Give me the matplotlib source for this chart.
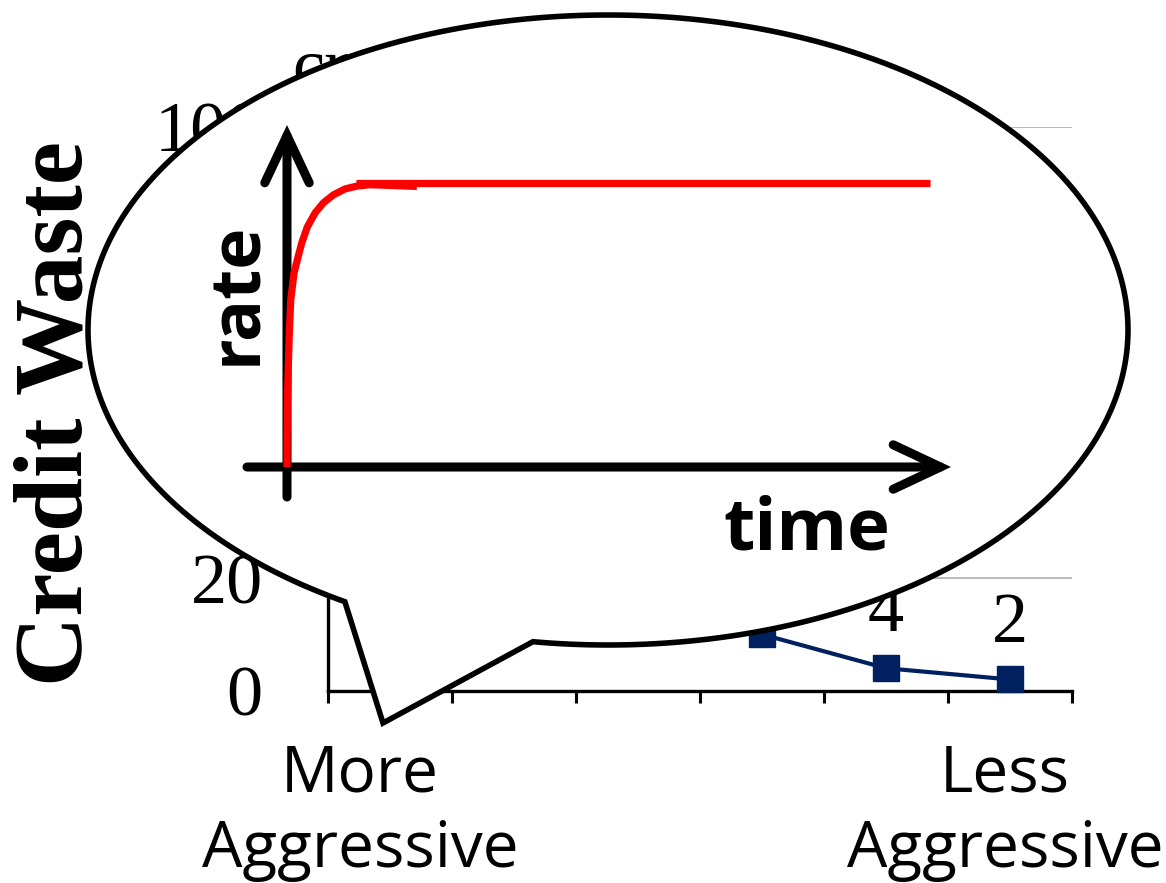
import numpy as np
import matplotlib
matplotlib.use("Agg")
import matplotlib.pyplot as plt
from matplotlib.transforms import Affine2D
from matplotlib.patches import PathPatch, ArrowStyle
from matplotlib.path import Path

W, H = 1166, 883

# ---- main series: credit waste vs. aggressiveness ----
categories = ["a1", "a2", "a3", "a4", "a5", "a6"]
credit_waste = [60, 35, 20, 10, 4, 2]
value_labels = ["60", "35", "20", "10", "4", "2"]
y_ticks = [0, 20, 40, 60, 80, 100]
end_labels = ["More\nAggressive", "Less\nAggressive"]

# ---- inset sketch: sending rate over time ----
ramp_time = [0, 0.05, 0.2, 0.36, 0.58, 1.09, 1.6, 2.29, 3.16, 4.35, 5.65,
             7.2, 9.02, 10.84, 12.9, 20.2]
ramp_rate = [0, 0.236, 0.352, 0.472, 0.588, 0.683, 0.729, 0.789, 0.845,
             0.894, 0.930, 0.958, 0.979, 0.989, 0.994, 0.988]
plateau_time = [10.7, 100]
plateau_rate = [1.0, 1.0]

SERIF = "Liberation Serif"
SANS = "Open Sans"
NAVY = "#002060"

fig = plt.figure(figsize=(W / 100, H / 100), dpi=100)
fig.patch.set_facecolor("white")
# pixel coordinates with origin at the top-left corner
pix = Affine2D().scale(1 / W, -1 / H).translate(0, 1) + fig.transFigure

# ---------------- main chart ----------------
ax_left, ax_right, ax_top, ax_bottom = 328, 1072, 127, 690.75
ax = fig.add_axes([ax_left / W, 1 - ax_bottom / H,
                   (ax_right - ax_left) / W, (ax_bottom - ax_top) / H], zorder=0)
x = np.arange(len(categories)) + 0.5
ax.plot(x, credit_waste, color=NAVY, lw=3, marker="s", ms=18.5,
        mfc=NAVY, mec=NAVY, clip_on=False, zorder=3)
for xi, v, lbl in zip(x, credit_waste, value_labels):
    ax.annotate(lbl, (xi, v), xytext=(0, 27), textcoords="offset points",
                ha="center", va="baseline", fontsize=52, family=SERIF,
                annotation_clip=False)

ax.set_xlim(0, len(categories))
ax.set_ylim(0, 100)
ax.set_xticks(np.arange(len(categories) + 1))
ax.set_xticklabels([])
ax.set_yticks(y_ticks)
ax.set_yticklabels([str(t) for t in y_ticks], family=SERIF, fontsize=52)
ax.tick_params(axis="y", length=0, pad=47)
ax.tick_params(axis="x", direction="out", length=8.6, width=2.2, color="black")
for side in ("top", "right"):
    ax.spines[side].set_visible(False)
for side in ("left", "bottom"):
    ax.spines[side].set_linewidth(2.4)
    ax.spines[side].set_color("black")
ax.yaxis.grid(True, color="#A6A6A6", lw=1.1)
ax.set_axisbelow(True)

ax.text(82, 414, "Credit Waste", transform=pix, rotation=90,
        rotation_mode="anchor", ha="center", va="baseline",
        fontsize=70, fontweight="bold", family=SERIF)
ax.text(292, 88, "cr", transform=pix, ha="left", va="baseline",
        fontsize=52, family=SERIF)
ax.text(360, 867, end_labels[0], transform=pix, ha="center", va="baseline",
        fontsize=46, family=SANS, linespacing=1.24)
ax.text(1005, 867, end_labels[1], transform=pix, ha="center", va="baseline",
        fontsize=46, family=SANS, linespacing=1.24)

# ---------------- speech bubble ----------------
cx, cy, a, b = 608, 330, 520, 315
theta = np.radians(np.linspace(120.4, 458.3, 400))
ring = np.column_stack([cx + a * np.cos(theta), cy + b * np.sin(theta)])
tail_tip = np.array([[383, 723]])
verts = np.vstack([ring, tail_tip, ring[:1]])
codes = [Path.MOVETO] + [Path.LINETO] * (len(verts) - 2) + [Path.CLOSEPOLY]
bubble = PathPatch(Path(verts, codes), transform=pix, facecolor="white",
                   edgecolor="black", lw=4, joinstyle="miter", zorder=1)
fig.add_artist(bubble)

# ---------------- inset sketch ----------------
T0, T100 = 287, 930      # pixel x of time 0 and time 100
R0, R1 = 467, 183        # pixel y of rate 0 and rate 1
bx0, bx1, by0, by1 = 200, 1000, 100, 560
ax_in = fig.add_axes([bx0 / W, 1 - by1 / H, (bx1 - bx0) / W, (by1 - by0) / H],
                     zorder=3)
ax_in.set_xlim((bx0 - T0) / (T100 - T0) * 100, (bx1 - T0) / (T100 - T0) * 100)
ax_in.set_ylim((R0 - by1) / (R0 - R1), (R0 - by0) / (R0 - R1))
ax_in.axis("off")
ax_in.patch.set_visible(False)

head = ArrowStyle("->", head_length=34, head_width=16)
arrow_kw = dict(arrowstyle=head, mutation_scale=1, lw=6.5, color="black",
                shrinkA=0, shrinkB=0, capstyle="round", joinstyle="miter")
ax_in.annotate("", xy=((951 - T0) / (T100 - T0) * 100, 0),
               xytext=((247 - T0) / (T100 - T0) * 100, 0), arrowprops=arrow_kw)
ax_in.annotate("", xy=(0, (R0 - 125) / (R0 - R1)),
               xytext=(0, (R0 - 497) / (R0 - R1)), arrowprops=arrow_kw)
ax_in.plot(ramp_time, ramp_rate, color="#FF0000", lw=5.2, zorder=5,
           solid_capstyle="butt", solid_joinstyle="round", clip_on=False)
ax_in.plot(plateau_time, plateau_rate, color="#FF0000", lw=5.2, zorder=5,
           solid_capstyle="butt", clip_on=False)

ax_in.text(256, 293, "rate", transform=pix, rotation=90, rotation_mode="anchor",
           ha="center", va="baseline", fontsize=50, fontweight="bold", family=SANS)
ax_in.text(807, 550, "time", transform=pix, ha="center", va="baseline",
           fontsize=52, fontweight="bold", family=SANS)

fig.savefig("out.png", dpi=100, facecolor="white")
